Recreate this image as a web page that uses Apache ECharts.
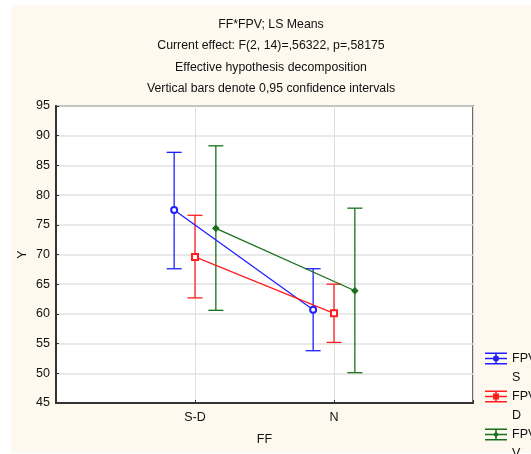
<!DOCTYPE html>
<html><head><meta charset="utf-8">
<script src="https://cdn.jsdelivr.net/npm/echarts@6/dist/echarts.min.js"></script>
<style>html,body{margin:0;padding:0;background:#fff}#c{width:531px;height:454px}</style>
</head><body><div id="c"></div>
<script>
const categories = ['S-D', 'N'];
const groupNames = ['FPV\nS', 'FPV\nD', 'FPV\nV'];
const titleLines = ['FF*FPV; LS Means', 'Current effect: F(2, 14)=,56322, p=,58175', 'Effective hypothesis decomposition', 'Vertical bars denote 0,95 confidence intervals'];
const meanS = [77.5, 60.7];
const lowS  = [67.6, 53.8];
const highS = [87.2, 67.6];
const meanD = [69.6, 60.1];
const lowD  = [62.7, 55.2];
const highD = [76.6, 65.0];
const meanV = [74.4, 63.9];
const lowV  = [60.6, 50.1];
const highV = [88.3, 77.8];
const yTicks = [45, 50, 55, 60, 65, 70, 75, 80, 85, 90, 95];

const colors = ['#1f1fff', '#ff1f1f', '#1a701a'];
const symbols = ['emptyCircle', 'emptyRect', 'diamond'];
const offsets = [-0.15, 0, 0.15];
const groups = [
  {mean: meanS, low: lowS, high: highS},
  {mean: meanD, low: lowD, high: highD},
  {mean: meanV, low: lowV, high: highV}
];

function iconPath(kind) {
  // drawn part occupies the top of a 22x38 box so it lines up with the first text line
  const o = 3.5;
  const r = (x1, y1, x2, y2) => `M${x1},${y1 + o}L${x2},${y1 + o}L${x2},${y2 + o}L${x1},${y2 + o}Z `;
  let p = r(0, 0, 22, 1.6) + r(0, 10.4, 22, 12) + r(0, 5.2, 22, 6.8) + r(10.2, 0, 11.8, 12);
  if (kind === 0) p += `M11,${3 + o}A3,3,0,1,1,10.99,${3 + o}Z `;
  else if (kind === 1) p += r(8, 3, 14, 9);
  else p += `M11,${3 + o}L14,${6 + o}L11,${9 + o}L8,${6 + o}Z `;
  p += 'M0,0L0.05,0L0.05,0.05L0,0.05Z M21.95,37.95L22,37.95L22,38L21.95,38Z';
  return 'path://' + p;
}

const series = [];
groups.forEach((g, i) => {
  series.push({
    name: groupNames[i],
    type: 'line',
    data: categories.map((c, k) => [k + 1 + offsets[i], g.mean[k]]),
    symbol: symbols[i],
    symbolSize: 6,
    lineStyle: {color: colors[i], width: 1.3},
    itemStyle: {color: colors[i], borderColor: colors[i], borderWidth: 1.1},
    z: 5,
    animation: false
  });
  series.push({
    name: groupNames[i],
    type: 'custom',
    data: categories.map((c, k) => [k + 1 + offsets[i], g.low[k], g.high[k]]),
    renderItem: function (params, api) {
      const x = api.value(0);
      const lo = api.coord([x, api.value(1)]);
      const hi = api.coord([x, api.value(2)]);
      const w = 7.5;
      const st = {stroke: colors[i], lineWidth: 1.3, fill: null};
      return {type: 'group', children: [
        {type: 'line', shape: {x1: lo[0], y1: lo[1], x2: hi[0], y2: hi[1]}, style: st},
        {type: 'line', shape: {x1: lo[0] - w, y1: lo[1], x2: lo[0] + w, y2: lo[1]}, style: st},
        {type: 'line', shape: {x1: hi[0] - w, y1: hi[1], x2: hi[0] + w, y2: hi[1]}, style: st}
      ]};
    },
    z: 4,
    animation: false
  });
});

const chart = echarts.init(document.getElementById('c'), null, {renderer: 'canvas'});
chart.setOption({
  backgroundColor: '#ffffff',
  animation: false,
  textStyle: {fontFamily: 'Liberation Sans, Arial, sans-serif'},
  graphic: [{
    type: 'rect', left: 11, top: 5, shape: {width: 520, height: 448},
    style: {fill: '#fdf9ef'}, z: -10, silent: true
  }, {
    type: 'text', x: 271, y: 14, silent: true, z: 10,
    style: {
      text: titleLines.join('\n'), align: 'center', verticalAlign: 'top',
      fontSize: 12.3, lineHeight: 21.3, fill: '#111',
      fontFamily: 'Liberation Sans, Arial, sans-serif'
    }
  }],
  legend: {
    orient: 'vertical',
    left: 485,
    top: 349,
    width: 100,
    height: 130,
    padding: 0,
    itemWidth: 22,
    itemHeight: 38,
    itemGap: 0,
    textStyle: {fontSize: 12.5, color: '#111', lineHeight: 19},
    data: groupNames.map((n, i) => ({name: n, icon: iconPath(i), itemStyle: {color: colors[i], borderWidth: 0}})),
    selectedMode: false
  },
  grid: {
    left: 56, right: 58, top: 106, bottom: 51,
    show: true, backgroundColor: '#ffffff', borderColor: '#3a3a3a', borderWidth: 1.5
  },
  xAxis: {
    type: 'value', min: 0, max: 3, interval: 1,
    name: 'FF', nameLocation: 'middle', nameGap: 30,
    nameTextStyle: {fontSize: 12.5, color: '#111'},
    axisLine: {show: true, lineStyle: {color: '#333', width: 2}},
    axisTick: {show: true, inside: true, length: 3, lineStyle: {color: '#333'}},
    axisLabel: {fontSize: 12.5, color: '#111', margin: 8, formatter: v => categories[v - 1] || ''},
    splitLine: {show: true, lineStyle: {color: '#dedede', width: 1}}
  },
  yAxis: {
    type: 'value', min: yTicks[0], max: yTicks[yTicks.length - 1], interval: 5,
    name: 'Y', nameLocation: 'middle', nameGap: 27, nameRotate: 90, nameMoveOverlap: false,
    nameTextStyle: {fontSize: 12.5, color: '#111'},
    axisLine: {show: true, lineStyle: {color: '#333', width: 2}},
    axisTick: {show: true, inside: true, length: 3, lineStyle: {color: '#333'}},
    axisLabel: {fontSize: 12.5, color: '#111', margin: 6},
    splitLine: {show: true, lineStyle: {color: '#e2e2e2', width: 1.5}}
  },
  series: series
});
</script></body></html>
